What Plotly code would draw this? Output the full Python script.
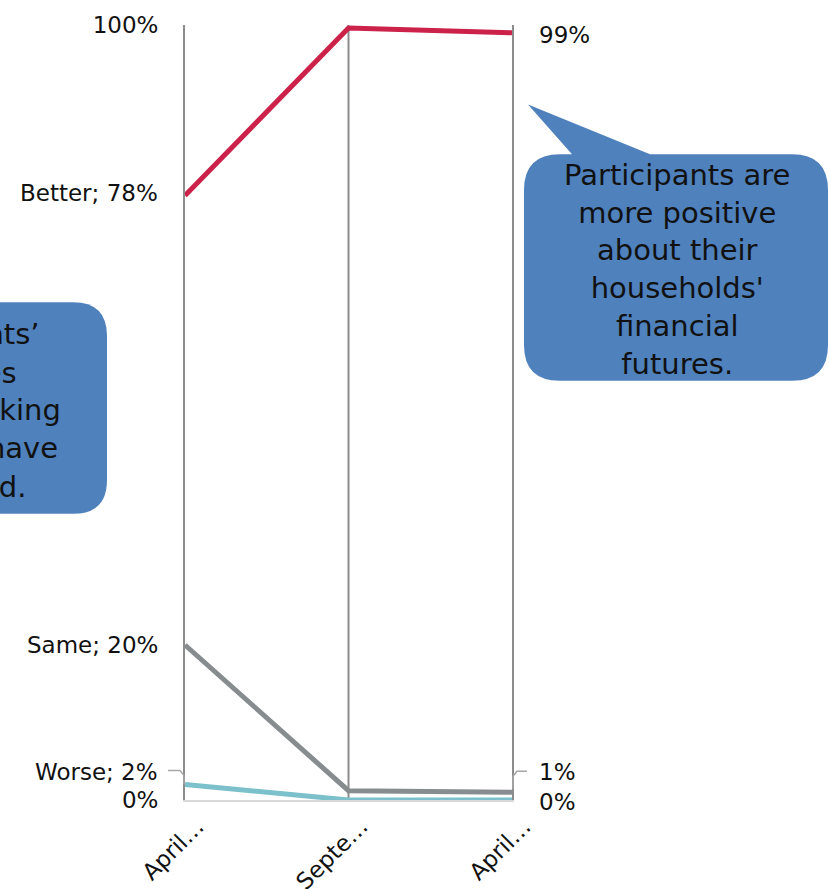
import plotly.graph_objects as go

# Survey waves (labels are truncated as shown on the axis)
periods = ["April…", "Septe…", "April…"]
# Share of participants by outlook on household finances, in percent
better = [78, 99.6, 99]
same = [20, 1.2, 1]
worse = [2, 0, 0]
series_names = ["Better", "Same", "Worse"]
series_values = [better, same, worse]
series_colors = ["#CC2149", "#878C8F", "#7BC0CB"]
y_ticks = [0, 100]
y_tick_text = ["0%", "100%"]

x_idx = list(range(len(periods)))

W, H = 829, 889
PL, PR, PT, PB = 185, 512, 20, 800  # plot-area edges in pixels

FONT = "DejaVu Sans, sans-serif"
TXT = "#111111"
LABEL_SIZE = 23
NOTE_SIZE = 29
RULE = "#8C8C8C"


def fx(p):
    return (p - PL) / (PR - PL)


def fy(p):
    return (PB - p) / (PB - PT)


def pt(x, y):
    return f"{fx(x):.5f},{fy(y):.5f}"


def callout_path(x0, y0, x1, y1, r, tail=None):
    """Rounded rectangle (pixel coords) with optional tail on the top edge."""
    d = f"M {pt(x0 + r, y0)} "
    if tail:
        (bx0, bx1, tx, ty) = tail
        d += f"L {pt(bx0, y0)} L {pt(tx, ty)} L {pt(bx1, y0)} "
    d += f"L {pt(x1 - r, y0)} Q {pt(x1, y0)} {pt(x1, y0 + r)} "
    d += f"L {pt(x1, y1 - r)} Q {pt(x1, y1)} {pt(x1 - r, y1)} "
    d += f"L {pt(x0 + r, y1)} Q {pt(x0, y1)} {pt(x0, y1 - r)} "
    d += f"L {pt(x0, y0 + r)} Q {pt(x0, y0)} {pt(x0 + r, y0)} Z"
    return d


fig = go.Figure()

for name, vals, col in zip(series_names, series_values, series_colors):
    fig.add_trace(go.Scatter(
        x=x_idx, y=vals, mode="lines", name=name,
        line=dict(color=col, width=5), hoverinfo="skip",
    ))

shapes = []
# vertical drop lines at the inner survey waves (outer ones are the axis lines)
for i in x_idx[1:-1]:
    shapes.append(dict(type="line", xref="x", yref="paper", x0=i, x1=i, y0=0, y1=1,
                       line=dict(color=RULE, width=2), layer="below"))

# leader lines for labels moved off their points (anchored on the data value)
shapes.append(dict(type="path", xref="paper", yref="y", xsizemode="pixel", ysizemode="pixel",
                   xanchor=0, yanchor=worse[0],
                   path="M -17,14 L -5,14 L -1,9 L -1,0",
                   line=dict(color="#A6A6A6", width=1.5), layer="above"))
shapes.append(dict(type="path", xref="paper", yref="y", xsizemode="pixel", ysizemode="pixel",
                   xanchor=1, yanchor=same[2],
                   path="M 15,21 L 5,21 L 1,16 L 1,3",
                   line=dict(color="#A6A6A6", width=1.5), layer="above"))

# speech-bubble callouts
shapes.append(dict(type="path", xref="paper", yref="paper",
                   path=callout_path(524, 150, 828, 378, 36, tail=(572, 650, 528, 100)),
                   fillcolor="#4F81BD", line=dict(width=0), layer="above"))
shapes.append(dict(type="path", xref="paper", yref="paper",
                   path=callout_path(-200, 299, 107, 512, 34),
                   fillcolor="#4F81BD", line=dict(width=0), layer="above"))

annotations = []
# data labels on the first wave
left_shift = {"Better": 3, "Same": 0, "Worse": 13}
for name, vals in zip(series_names, series_values):
    annotations.append(dict(x=x_idx[0], y=vals[0], xref="x", yref="y",
                            text=f"{name}; {vals[0]:g}%", showarrow=False,
                            xanchor="right", yanchor="middle", xshift=-25,
                            yshift=left_shift[name],
                            font=dict(family=FONT, size=LABEL_SIZE, color=TXT)))
# data labels on the last wave
right_shift = {"Better": -2, "Same": 20, "Worse": -2}
for name, vals in zip(series_names, series_values):
    annotations.append(dict(x=x_idx[-1], y=vals[-1], xref="x", yref="y",
                            text=f"{vals[-1]:g}%", showarrow=False,
                            xanchor="left", yanchor="middle", xshift=25,
                            yshift=right_shift[name],
                            font=dict(family=FONT, size=LABEL_SIZE, color=TXT)))

# rotated category labels
for i, lab in zip(x_idx, periods):
    annotations.append(dict(x=i, y=0, xref="x", yref="paper", text=lab, showarrow=False,
                            textangle=-45, xanchor="right", yanchor="top",
                            xshift=27, yshift=-10,
                            font=dict(family=FONT, size=LABEL_SIZE, color=TXT)))

# callout texts
annotations.append(dict(x=fx(677), y=fy(266), xref="paper", yref="paper",
                        text="Participants are<br>more positive<br>about their<br>households'<br>financial<br>futures.",
                        showarrow=False, align="center", xanchor="center", yanchor="middle",
                        font=dict(family=FONT, size=NOTE_SIZE, color=TXT)))

left_lines = ["Participants’", "attitudes", "toward banking", "and saving have", "improved."]
left_ends = [42, 19, 63, 60, 28]
left_rows = [331, 370, 407, 446, 485]
for line, xe, yr in zip(left_lines, left_ends, left_rows):
    annotations.append(dict(x=fx(xe), y=fy(yr), xref="paper", yref="paper", text=line,
                            showarrow=False, xanchor="right", yanchor="middle",
                            font=dict(family=FONT, size=NOTE_SIZE, color=TXT)))

fig.update_layout(
    width=W, height=H,
    margin=dict(l=PL, r=W - PR, t=PT, b=H - PB, pad=0),
    paper_bgcolor="white", plot_bgcolor="white",
    showlegend=False,
    shapes=shapes,
    annotations=annotations,
    xaxis=dict(range=[0, 2], showgrid=False, zeroline=False, showticklabels=False,
               showline=True, linecolor="#D9D9D9", linewidth=2, ticks="",
               fixedrange=True),
    yaxis=dict(range=[0, 100], tickvals=y_ticks, ticktext=y_tick_text, showgrid=False,
               zeroline=False, showline=True, mirror=True, linecolor=RULE, linewidth=2,
               ticks="", ticklabelstandoff=20,
               tickfont=dict(family=FONT, size=LABEL_SIZE, color=TXT), fixedrange=True),
)

fig.write_html("out.html")
